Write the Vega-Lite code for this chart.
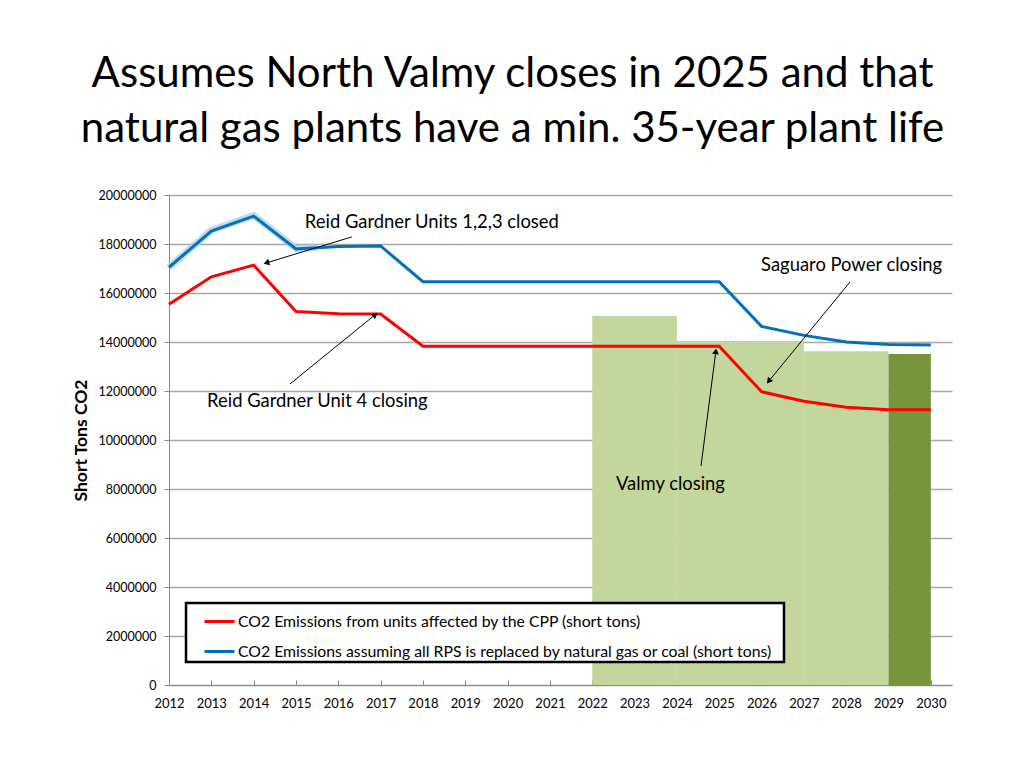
{
  "$schema": "https://vega.github.io/schema/vega-lite/v6.json",
  "autosize": "none",
  "width": 783,
  "height": 490,
  "padding": {"left": 169, "top": 195, "right": 72, "bottom": 83},
  "background": "white",
  "title": {
    "text": ["Assumes North Valmy closes in 2025 and that", "natural gas plants have a min. 35-year plant life"],
    "font": "Lato",
    "fontSize": 42,
    "fontWeight": "normal",
    "color": "black",
    "anchor": "middle",
    "frame": "group",
    "dx": -48,
    "lineHeight": 55,
    "offset": 38
  },
  "config": {
    "view": {"stroke": null},
    "font": "Lato",
    "axis": {"labelFont": "Lato", "titleFont": "Lato", "labelColor": "black", "titleColor": "black"}
  },
  "datasets": {
    "bars": [
      {"start": 2022, "end": 2024, "value": 15060000, "kind": "light"},
      {"start": 2024, "end": 2027, "value": 14040000, "kind": "light"},
      {"start": 2027, "end": 2029, "value": 13620000, "kind": "light"},
      {"start": 2029, "end": 2030, "value": 13510000, "kind": "dark"}
    ],
    "lines": [
      {"year": 2012, "series": "CO2 Emissions from units affected by the CPP (short tons)", "value": 15540000},
      {"year": 2013, "series": "CO2 Emissions from units affected by the CPP (short tons)", "value": 16660000},
      {"year": 2014, "series": "CO2 Emissions from units affected by the CPP (short tons)", "value": 17140000},
      {"year": 2015, "series": "CO2 Emissions from units affected by the CPP (short tons)", "value": 15240000},
      {"year": 2016, "series": "CO2 Emissions from units affected by the CPP (short tons)", "value": 15150000},
      {"year": 2017, "series": "CO2 Emissions from units affected by the CPP (short tons)", "value": 15140000},
      {"year": 2018, "series": "CO2 Emissions from units affected by the CPP (short tons)", "value": 13830000},
      {"year": 2019, "series": "CO2 Emissions from units affected by the CPP (short tons)", "value": 13830000},
      {"year": 2020, "series": "CO2 Emissions from units affected by the CPP (short tons)", "value": 13830000},
      {"year": 2021, "series": "CO2 Emissions from units affected by the CPP (short tons)", "value": 13830000},
      {"year": 2022, "series": "CO2 Emissions from units affected by the CPP (short tons)", "value": 13830000},
      {"year": 2023, "series": "CO2 Emissions from units affected by the CPP (short tons)", "value": 13830000},
      {"year": 2024, "series": "CO2 Emissions from units affected by the CPP (short tons)", "value": 13830000},
      {"year": 2025, "series": "CO2 Emissions from units affected by the CPP (short tons)", "value": 13830000},
      {"year": 2026, "series": "CO2 Emissions from units affected by the CPP (short tons)", "value": 11970000},
      {"year": 2027, "series": "CO2 Emissions from units affected by the CPP (short tons)", "value": 11580000},
      {"year": 2028, "series": "CO2 Emissions from units affected by the CPP (short tons)", "value": 11340000},
      {"year": 2029, "series": "CO2 Emissions from units affected by the CPP (short tons)", "value": 11230000},
      {"year": 2030, "series": "CO2 Emissions from units affected by the CPP (short tons)", "value": 11230000},
      {"year": 2012, "series": "CO2 Emissions assuming all RPS is replaced by natural gas or coal (short tons)", "value": 17050000},
      {"year": 2013, "series": "CO2 Emissions assuming all RPS is replaced by natural gas or coal (short tons)", "value": 18530000},
      {"year": 2014, "series": "CO2 Emissions assuming all RPS is replaced by natural gas or coal (short tons)", "value": 19140000},
      {"year": 2015, "series": "CO2 Emissions assuming all RPS is replaced by natural gas or coal (short tons)", "value": 17800000},
      {"year": 2016, "series": "CO2 Emissions assuming all RPS is replaced by natural gas or coal (short tons)", "value": 17900000},
      {"year": 2017, "series": "CO2 Emissions assuming all RPS is replaced by natural gas or coal (short tons)", "value": 17920000},
      {"year": 2018, "series": "CO2 Emissions assuming all RPS is replaced by natural gas or coal (short tons)", "value": 16460000},
      {"year": 2019, "series": "CO2 Emissions assuming all RPS is replaced by natural gas or coal (short tons)", "value": 16460000},
      {"year": 2020, "series": "CO2 Emissions assuming all RPS is replaced by natural gas or coal (short tons)", "value": 16460000},
      {"year": 2021, "series": "CO2 Emissions assuming all RPS is replaced by natural gas or coal (short tons)", "value": 16460000},
      {"year": 2022, "series": "CO2 Emissions assuming all RPS is replaced by natural gas or coal (short tons)", "value": 16460000},
      {"year": 2023, "series": "CO2 Emissions assuming all RPS is replaced by natural gas or coal (short tons)", "value": 16460000},
      {"year": 2024, "series": "CO2 Emissions assuming all RPS is replaced by natural gas or coal (short tons)", "value": 16460000},
      {"year": 2025, "series": "CO2 Emissions assuming all RPS is replaced by natural gas or coal (short tons)", "value": 16460000},
      {"year": 2026, "series": "CO2 Emissions assuming all RPS is replaced by natural gas or coal (short tons)", "value": 14640000},
      {"year": 2027, "series": "CO2 Emissions assuming all RPS is replaced by natural gas or coal (short tons)", "value": 14270000},
      {"year": 2028, "series": "CO2 Emissions assuming all RPS is replaced by natural gas or coal (short tons)", "value": 14000000},
      {"year": 2029, "series": "CO2 Emissions assuming all RPS is replaced by natural gas or coal (short tons)", "value": 13900000},
      {"year": 2030, "series": "CO2 Emissions assuming all RPS is replaced by natural gas or coal (short tons)", "value": 13880000}
    ],
    "glow": [
      {"year": 2012, "value": 17050000},
      {"year": 2013, "value": 18560000},
      {"year": 2014, "value": 19170000},
      {"year": 2015, "value": 17820000},
      {"year": 2015.5, "value": 17850000}
    ],
    "notes": [
      {"label": "Reid Gardner Units 1,2,3 closed", "year": 2015.21, "value": 18900000},
      {"label": "Saguaro Power closing", "year": 2025.99, "value": 17140000},
      {"label": "Reid Gardner Unit 4 closing", "year": 2012.9, "value": 11590000},
      {"label": "Valmy closing", "year": 2022.56, "value": 8200000}
    ],
    "arrows": [
      {"name": "units123", "x1": 2016.32, "y1": 18290000, "x2": 2014.3, "y2": 17230000},
      {"name": "saguaro", "x1": 2028.09, "y1": 16450000, "x2": 2026.17, "y2": 12400000},
      {"name": "unit4", "x1": 2014.86, "y1": 12290000, "x2": 2016.87, "y2": 15110000},
      {"name": "valmy", "x1": 2024.57, "y1": 8940000, "x2": 2024.92, "y2": 13620000}
    ]
  },
  "encoding": {
    "x": {
      "type": "quantitative",
      "scale": {"domain": [2012, 2030.5], "nice": false, "zero": false}
    },
    "y": {
      "type": "quantitative",
      "scale": {"domain": [0, 20000000], "nice": false}
    }
  },
  "layer": [
    {
      "data": {"name": "bars"},
      "transform": [{"filter": "datum.kind === 'light'"}],
      "mark": {"type": "rect", "color": "#c3d69b"},
      "encoding": {
        "x": {"field": "start", "type": "quantitative",
          "axis": {
            "values": [2012, 2013, 2014, 2015, 2016, 2017, 2018, 2019, 2020, 2021, 2022, 2023, 2024, 2025, 2026, 2027, 2028, 2029, 2030],
            "format": "d", "grid": false, "title": null,
            "labelFontSize": 13, "labelPadding": 17, "labelOverlap": false, "labelFlush": false,
            "domainColor": "#868686", "tickColor": "#868686", "tickSize": -5
          }
        },
        "x2": {"field": "end"},
        "y": {"field": "value", "type": "quantitative",
          "axis": {
            "values": [0, 1000000, 2000000, 3000000, 4000000, 5000000, 6000000, 7000000, 8000000, 9000000, 10000000, 11000000, 12000000, 13000000, 14000000, 15000000, 16000000, 17000000, 18000000, 19000000, 20000000],
            "labelExpr": "datum.value % 2000000 === 0 ? format(datum.value, 'd') : ''",
            "title": "Short Tons CO2",
            "titleFontSize": 17.5, "titleFontWeight": "bold", "titlePadding": 8,
            "labelFontSize": 12.5, "labelPadding": 8, "labelOverlap": false, "labelFlush": false,
            "domainColor": "#868686", "tickColor": "#868686", "tickSize": 5,
            "grid": true,
            "gridColor": {"condition": {"test": "datum.value % 2000000 === 0", "value": "#a6a6a6"}, "value": "transparent"},
            "gridWidth": 1.5
          }
        },
        "y2": {"datum": 0}
      }
    },
    {
      "data": {"name": "bars"},
      "transform": [{"filter": "datum.kind === 'dark'"}],
      "mark": {"type": "rect", "color": "#77933c"},
      "encoding": {
        "x": {"field": "start", "type": "quantitative"},
        "x2": {"field": "end"},
        "y": {"field": "value", "type": "quantitative"},
        "y2": {"datum": 0}
      }
    },
    {
      "data": {"name": "glow"},
      "mark": {"type": "line", "color": "#a9c9e8", "strokeWidth": 7, "opacity": 0.7},
      "encoding": {
        "x": {"field": "year", "type": "quantitative"},
        "y": {"field": "value", "type": "quantitative"}
      }
    },
    {
      "data": {"name": "lines"},
      "mark": {"type": "line", "strokeWidth": 3},
      "encoding": {
        "x": {"field": "year", "type": "quantitative"},
        "y": {"field": "value", "type": "quantitative"},
        "color": {
          "field": "series", "type": "nominal",
          "scale": {
            "domain": ["CO2 Emissions from units affected by the CPP (short tons)", "CO2 Emissions assuming all RPS is replaced by natural gas or coal (short tons)"],
            "range": ["#ff0000", "#0070c0"]
          },
          "legend": {
            "title": "\u00a0", "titleOrient": "right", "titlePadding": 10, "titleFontSize": 4,
            "orient": "none", "legendX": 17, "legendY": 408,
            "direction": "vertical",
            "strokeColor": "black", "fillColor": "white",
            "padding": 2, "rowPadding": 5, "symbolOffset": 15,
            "labelFont": "Lato", "labelFontSize": 15.8, "labelColor": "black", "labelLimit": 800, "labelOffset": 2,
            "symbolType": "stroke", "symbolSize": 900, "symbolStrokeWidth": 3,
            "encode": {"legend": {"update": {"strokeWidth": {"value": 2.5}}}}
          }
        }
      }
    },
    {
      "data": {"name": "arrows"},
      "mark": {"type": "rule", "color": "black", "strokeWidth": 1},
      "encoding": {
        "x": {"field": "x1", "type": "quantitative"},
        "y": {"field": "y1", "type": "quantitative"},
        "x2": {"field": "x2"},
        "y2": {"field": "y2"}
      }
    },
    {
      "data": {"name": "arrows"},
      "transform": [{"filter": "datum.name === 'units123'"}],
      "mark": {"type": "point", "shape": "triangle-up", "filled": true, "color": "black", "opacity": 1, "size": 45, "angle": 253},
      "encoding": {
        "x": {"field": "x2", "type": "quantitative"},
        "y": {"field": "y2", "type": "quantitative"}
      }
    },
    {
      "data": {"name": "arrows"},
      "transform": [{"filter": "datum.name === 'saguaro'"}],
      "mark": {"type": "point", "shape": "triangle-up", "filled": true, "color": "black", "opacity": 1, "size": 45, "angle": 219},
      "encoding": {
        "x": {"field": "x2", "type": "quantitative"},
        "y": {"field": "y2", "type": "quantitative"}
      }
    },
    {
      "data": {"name": "arrows"},
      "transform": [{"filter": "datum.name === 'unit4'"}],
      "mark": {"type": "point", "shape": "triangle-up", "filled": true, "color": "black", "opacity": 1, "size": 45, "angle": 51},
      "encoding": {
        "x": {"field": "x2", "type": "quantitative"},
        "y": {"field": "y2", "type": "quantitative"}
      }
    },
    {
      "data": {"name": "arrows"},
      "transform": [{"filter": "datum.name === 'valmy'"}],
      "mark": {"type": "point", "shape": "triangle-up", "filled": true, "color": "black", "opacity": 1, "size": 45, "angle": 7},
      "encoding": {
        "x": {"field": "x2", "type": "quantitative"},
        "y": {"field": "y2", "type": "quantitative"}
      }
    },
    {
      "data": {"name": "notes"},
      "mark": {"type": "text", "align": "left", "baseline": "middle", "font": "Lato", "fontSize": 18.4, "color": "black"},
      "encoding": {
        "x": {"field": "year", "type": "quantitative"},
        "y": {"field": "value", "type": "quantitative"},
        "text": {"field": "label", "type": "nominal"}
      }
    }
  ]
}
